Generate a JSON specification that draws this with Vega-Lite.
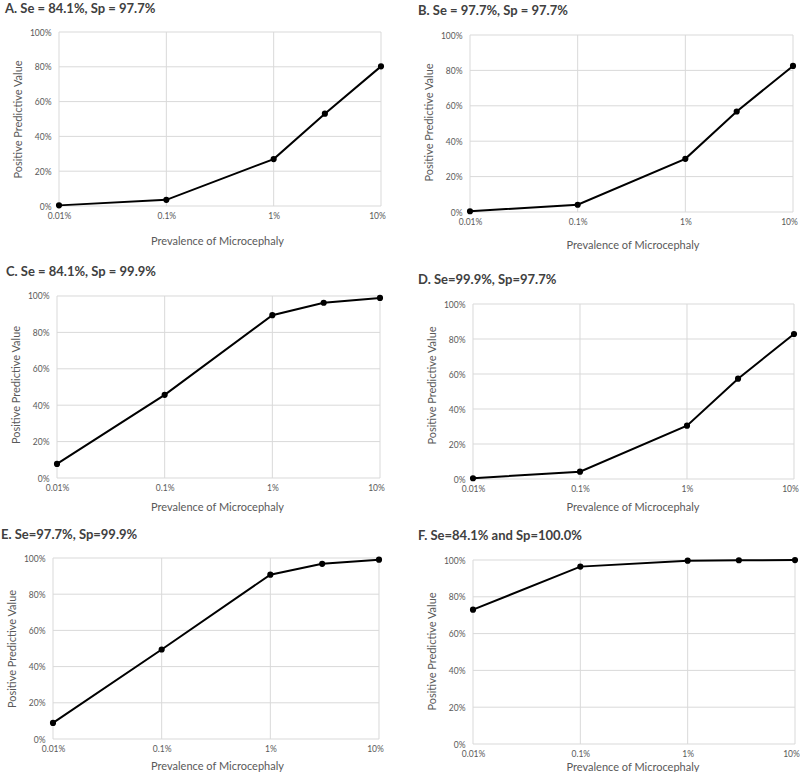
{
  "$schema": "https://vega.github.io/schema/vega-lite/v6.json",
  "padding": {"left": 1, "top": 2, "right": 0, "bottom": 0},
  "background": "white",
  "bounds": "flush",
  "columns": 2,
  "spacing": {"row": 79, "column": 89},
  "datasets": {
    "ppv": [
      {"panel": "A", "p": 0.0001, "ppv": 0.0036}, {"panel": "A", "p": 0.001, "ppv": 0.0353}, {"panel": "A", "p": 0.01, "ppv": 0.2697}, {"panel": "A", "p": 0.03, "ppv": 0.5307}, {"panel": "A", "p": 0.1, "ppv": 0.8025},
      {"panel": "B", "p": 0.0001, "ppv": 0.0042}, {"panel": "B", "p": 0.001, "ppv": 0.0408}, {"panel": "B", "p": 0.01, "ppv": 0.3003}, {"panel": "B", "p": 0.03, "ppv": 0.5678}, {"panel": "B", "p": 0.1, "ppv": 0.8252},
      {"panel": "C", "p": 0.0001, "ppv": 0.0776}, {"panel": "C", "p": 0.001, "ppv": 0.4571}, {"panel": "C", "p": 0.01, "ppv": 0.8947}, {"panel": "C", "p": 0.03, "ppv": 0.963}, {"panel": "C", "p": 0.1, "ppv": 0.9894},
      {"panel": "D", "p": 0.0001, "ppv": 0.0043}, {"panel": "D", "p": 0.001, "ppv": 0.0417}, {"panel": "D", "p": 0.01, "ppv": 0.305}, {"panel": "D", "p": 0.03, "ppv": 0.5733}, {"panel": "D", "p": 0.1, "ppv": 0.8284},
      {"panel": "E", "p": 0.0001, "ppv": 0.089}, {"panel": "E", "p": 0.001, "ppv": 0.4944}, {"panel": "E", "p": 0.01, "ppv": 0.908}, {"panel": "E", "p": 0.03, "ppv": 0.968}, {"panel": "E", "p": 0.1, "ppv": 0.9909},
      {"panel": "F", "p": 0.0001, "ppv": 0.73}, {"panel": "F", "p": 0.001, "ppv": 0.964}, {"panel": "F", "p": 0.01, "ppv": 0.9963}, {"panel": "F", "p": 0.03, "ppv": 0.9988}, {"panel": "F", "p": 0.1, "ppv": 0.9996}
    ],
    "vgrid": [{"p": 0.0001}, {"p": 0.001}, {"p": 0.01}, {"p": 0.1}],
    "hgrid": [{"ppv": 0}, {"ppv": 0.2}, {"ppv": 0.4}, {"ppv": 0.6}, {"ppv": 0.8}, {"ppv": 1}]
  },
  "concat": [
    {
      "width": 328, "height": 174,
      "title": {"text": "A. Se = 84.1%, Sp = 97.7%", "anchor": "start", "frame": "group", "dx": -48, "offset": 6.5, "baseline": "middle"},
      "layer": [
        {"data": {"name": "vgrid"}, "mark": {"type": "rule", "color": "#d9d9d9", "strokeWidth": 1},
         "encoding": {"x": {"field": "p", "type": "quantitative", "scale": {"type": "log", "domain": [8.79e-5, 0.1], "nice": false}, "axis": {"values": [0.0001, 0.001, 0.01, 0.1], "format": "~%", "title": "Prevalence of Microcephaly", "titlePadding": 16}},
                      "y": {"datum": 0, "type": "quantitative", "scale": {"domain": [0, 1], "nice": false}, "axis": {"values": [0, 0.2, 0.4, 0.6, 0.8, 1], "format": ".0%", "title": "Positive Predictive Value", "offset": -6}}, "y2": {"datum": 1}}},
        {"data": {"name": "hgrid"}, "mark": {"type": "rule", "color": "#d9d9d9", "strokeWidth": 1},
         "encoding": {"y": {"field": "ppv", "type": "quantitative", "scale": {"domain": [0, 1], "nice": false}, "axis": {"values": [0, 0.2, 0.4, 0.6, 0.8, 1], "format": ".0%", "title": "Positive Predictive Value", "offset": -6}},
                      "x": {"datum": 0.0001, "type": "quantitative", "scale": {"type": "log", "domain": [8.79e-5, 0.1], "nice": false}, "axis": {"values": [0.0001, 0.001, 0.01, 0.1], "format": "~%", "title": "Prevalence of Microcephaly", "titlePadding": 16}}, "x2": {"datum": 0.1}}},
        {"data": {"name": "ppv"}, "transform": [{"filter": "datum.panel === 'A'"}],
         "mark": {"type": "line", "color": "black", "strokeWidth": 2, "point": {"filled": true, "color": "black", "size": 38}},
         "encoding": {"x": {"field": "p", "type": "quantitative", "scale": {"type": "log", "domain": [8.79e-5, 0.1], "nice": false}, "axis": {"values": [0.0001, 0.001, 0.01, 0.1], "format": "~%", "title": "Prevalence of Microcephaly", "titlePadding": 16}},
                      "y": {"field": "ppv", "type": "quantitative", "scale": {"domain": [0, 1], "nice": false}, "axis": {"values": [0, 0.2, 0.4, 0.6, 0.8, 1], "format": ".0%", "title": "Positive Predictive Value", "offset": -6}}}}
      ]
    },
    {
      "width": 325, "height": 180,
      "title": {"text": "B. Se = 97.7%, Sp = 97.7%", "anchor": "start", "frame": "group", "dx": -52, "offset": 7.5, "baseline": "middle"},
      "layer": [
        {"data": {"name": "vgrid"}, "mark": {"type": "rule", "color": "#d9d9d9", "strokeWidth": 1},
         "encoding": {"x": {"field": "p", "type": "quantitative", "scale": {"type": "log", "domain": [0.0001, 0.10437], "nice": false}, "axis": {"values": [0.0001, 0.001, 0.01, 0.1], "format": "~%", "title": "Prevalence of Microcephaly", "titlePadding": 14}},
                      "y": {"datum": 0, "type": "quantitative", "scale": {"domain": [0, 1.01695], "nice": false}, "axis": {"values": [0, 0.2, 0.4, 0.6, 0.8, 1], "format": ".0%", "title": "Positive Predictive Value", "offset": 0}}, "y2": {"datum": 1}}},
        {"data": {"name": "hgrid"}, "mark": {"type": "rule", "color": "#d9d9d9", "strokeWidth": 1},
         "encoding": {"y": {"field": "ppv", "type": "quantitative", "scale": {"domain": [0, 1.01695], "nice": false}, "axis": {"values": [0, 0.2, 0.4, 0.6, 0.8, 1], "format": ".0%", "title": "Positive Predictive Value", "offset": 0}},
                      "x": {"datum": 0.0001, "type": "quantitative", "scale": {"type": "log", "domain": [0.0001, 0.10437], "nice": false}, "axis": {"values": [0.0001, 0.001, 0.01, 0.1], "format": "~%", "title": "Prevalence of Microcephaly", "titlePadding": 14}}, "x2": {"datum": 0.1}}},
        {"data": {"name": "ppv"}, "transform": [{"filter": "datum.panel === 'B'"}],
         "mark": {"type": "line", "color": "black", "strokeWidth": 2, "point": {"filled": true, "color": "black", "size": 38}},
         "encoding": {"x": {"field": "p", "type": "quantitative", "scale": {"type": "log", "domain": [0.0001, 0.10437], "nice": false}, "axis": {"values": [0.0001, 0.001, 0.01, 0.1], "format": "~%", "title": "Prevalence of Microcephaly", "titlePadding": 14}},
                      "y": {"field": "ppv", "type": "quantitative", "scale": {"domain": [0, 1.01695], "nice": false}, "axis": {"values": [0, 0.2, 0.4, 0.6, 0.8, 1], "format": ".0%", "title": "Positive Predictive Value", "offset": 0}}}}
      ]
    },
    {
      "width": 328, "height": 187,
      "title": {"text": "C. Se = 84.1%, Sp = 99.9%", "anchor": "start", "frame": "group", "dx": -47, "offset": 6, "baseline": "middle"},
      "layer": [
        {"data": {"name": "vgrid"}, "mark": {"type": "rule", "color": "#d9d9d9", "strokeWidth": 1},
         "encoding": {"x": {"field": "p", "type": "quantitative", "scale": {"type": "log", "domain": [9.18e-5, 0.10216], "nice": false}, "axis": {"values": [0.0001, 0.001, 0.01, 0.1], "format": "~%", "title": "Prevalence of Microcephaly", "titlePadding": 10}},
                      "y": {"datum": 0, "type": "quantitative", "scale": {"domain": [0, 1.02747], "nice": false}, "axis": {"values": [0, 0.2, 0.4, 0.6, 0.8, 1], "format": ".0%", "title": "Positive Predictive Value", "offset": -4}}, "y2": {"datum": 1}}},
        {"data": {"name": "hgrid"}, "mark": {"type": "rule", "color": "#d9d9d9", "strokeWidth": 1},
         "encoding": {"y": {"field": "ppv", "type": "quantitative", "scale": {"domain": [0, 1.02747], "nice": false}, "axis": {"values": [0, 0.2, 0.4, 0.6, 0.8, 1], "format": ".0%", "title": "Positive Predictive Value", "offset": -4}},
                      "x": {"datum": 0.0001, "type": "quantitative", "scale": {"type": "log", "domain": [9.18e-5, 0.10216], "nice": false}, "axis": {"values": [0.0001, 0.001, 0.01, 0.1], "format": "~%", "title": "Prevalence of Microcephaly", "titlePadding": 10}}, "x2": {"datum": 0.1}}},
        {"data": {"name": "ppv"}, "transform": [{"filter": "datum.panel === 'C'"}],
         "mark": {"type": "line", "color": "black", "strokeWidth": 2, "point": {"filled": true, "color": "black", "size": 38}},
         "encoding": {"x": {"field": "p", "type": "quantitative", "scale": {"type": "log", "domain": [9.18e-5, 0.10216], "nice": false}, "axis": {"values": [0.0001, 0.001, 0.01, 0.1], "format": "~%", "title": "Prevalence of Microcephaly", "titlePadding": 10}},
                      "y": {"field": "ppv", "type": "quantitative", "scale": {"domain": [0, 1.02747], "nice": false}, "axis": {"values": [0, 0.2, 0.4, 0.6, 0.8, 1], "format": ".0%", "title": "Positive Predictive Value", "offset": -4}}}}
      ]
    },
    {
      "width": 325, "height": 188,
      "title": {"text": "D. Se=99.9%, Sp=97.7%", "anchor": "start", "frame": "group", "dx": -52, "offset": -2, "baseline": "middle"},
      "layer": [
        {"data": {"name": "vgrid"}, "mark": {"type": "rule", "color": "#d9d9d9", "strokeWidth": 1},
         "encoding": {"x": {"field": "p", "type": "quantitative", "scale": {"type": "log", "domain": [9.375e-5, 0.10218], "nice": false}, "axis": {"values": [0.0001, 0.001, 0.01, 0.1], "format": "~%", "title": "Prevalence of Microcephaly", "titlePadding": 9}},
                      "y": {"datum": 0, "type": "quantitative", "scale": {"domain": [0, 1.07429], "nice": false}, "axis": {"values": [0, 0.2, 0.4, 0.6, 0.8, 1], "format": ".0%", "title": "Positive Predictive Value", "offset": -3}}, "y2": {"datum": 1}}},
        {"data": {"name": "hgrid"}, "mark": {"type": "rule", "color": "#d9d9d9", "strokeWidth": 1},
         "encoding": {"y": {"field": "ppv", "type": "quantitative", "scale": {"domain": [0, 1.07429], "nice": false}, "axis": {"values": [0, 0.2, 0.4, 0.6, 0.8, 1], "format": ".0%", "title": "Positive Predictive Value", "offset": -3}},
                      "x": {"datum": 0.0001, "type": "quantitative", "scale": {"type": "log", "domain": [9.375e-5, 0.10218], "nice": false}, "axis": {"values": [0.0001, 0.001, 0.01, 0.1], "format": "~%", "title": "Prevalence of Microcephaly", "titlePadding": 9}}, "x2": {"datum": 0.1}}},
        {"data": {"name": "ppv"}, "transform": [{"filter": "datum.panel === 'D'"}],
         "mark": {"type": "line", "color": "black", "strokeWidth": 2, "point": {"filled": true, "color": "black", "size": 38}},
         "encoding": {"x": {"field": "p", "type": "quantitative", "scale": {"type": "log", "domain": [9.375e-5, 0.10218], "nice": false}, "axis": {"values": [0.0001, 0.001, 0.01, 0.1], "format": "~%", "title": "Prevalence of Microcephaly", "titlePadding": 9}},
                      "y": {"field": "ppv", "type": "quantitative", "scale": {"domain": [0, 1.07429], "nice": false}, "axis": {"values": [0, 0.2, 0.4, 0.6, 0.8, 1], "format": ".0%", "title": "Positive Predictive Value", "offset": -3}}}}
      ]
    },
    {
      "width": 328, "height": 181,
      "title": {"text": "E. Se=97.7%, Sp=99.9%", "anchor": "start", "frame": "group", "dx": -52, "offset": 6.5, "baseline": "middle"},
      "layer": [
        {"data": {"name": "vgrid"}, "mark": {"type": "rule", "color": "#d9d9d9", "strokeWidth": 1},
         "encoding": {"x": {"field": "p", "type": "quantitative", "scale": {"type": "log", "domain": [0.0001, 0.10433], "nice": false}, "axis": {"values": [0.0001, 0.001, 0.01, 0.1], "format": "~%", "title": "Prevalence of Microcephaly", "titlePadding": 8}},
                      "y": {"datum": 0, "type": "quantitative", "scale": {"domain": [0, 1], "nice": false}, "axis": {"values": [0, 0.2, 0.4, 0.6, 0.8, 1], "format": ".0%", "title": "Positive Predictive Value", "offset": 0}}, "y2": {"datum": 1}}},
        {"data": {"name": "hgrid"}, "mark": {"type": "rule", "color": "#d9d9d9", "strokeWidth": 1},
         "encoding": {"y": {"field": "ppv", "type": "quantitative", "scale": {"domain": [0, 1], "nice": false}, "axis": {"values": [0, 0.2, 0.4, 0.6, 0.8, 1], "format": ".0%", "title": "Positive Predictive Value", "offset": 0}},
                      "x": {"datum": 0.0001, "type": "quantitative", "scale": {"type": "log", "domain": [0.0001, 0.10433], "nice": false}, "axis": {"values": [0.0001, 0.001, 0.01, 0.1], "format": "~%", "title": "Prevalence of Microcephaly", "titlePadding": 8}}, "x2": {"datum": 0.1}}},
        {"data": {"name": "ppv"}, "transform": [{"filter": "datum.panel === 'E'"}],
         "mark": {"type": "line", "color": "black", "strokeWidth": 2, "point": {"filled": true, "color": "black", "size": 38}},
         "encoding": {"x": {"field": "p", "type": "quantitative", "scale": {"type": "log", "domain": [0.0001, 0.10433], "nice": false}, "axis": {"values": [0.0001, 0.001, 0.01, 0.1], "format": "~%", "title": "Prevalence of Microcephaly", "titlePadding": 8}},
                      "y": {"field": "ppv", "type": "quantitative", "scale": {"domain": [0, 1], "nice": false}, "axis": {"values": [0, 0.2, 0.4, 0.6, 0.8, 1], "format": ".0%", "title": "Positive Predictive Value", "offset": 0}}}}
      ]
    },
    {
      "width": 325, "height": 186,
      "title": {"text": "F. Se=84.1% and Sp=100.0%", "anchor": "start", "frame": "group", "dx": -52, "offset": 7.5, "baseline": "middle"},
      "layer": [
        {"data": {"name": "vgrid"}, "mark": {"type": "rule", "color": "#d9d9d9", "strokeWidth": 1},
         "encoding": {"x": {"field": "p", "type": "quantitative", "scale": {"type": "log", "domain": [9.376e-5, 0.1], "nice": false}, "axis": {"values": [0.0001, 0.001, 0.01, 0.1], "format": "~%", "title": "Prevalence of Microcephaly", "titlePadding": 4}},
                      "y": {"datum": 0, "type": "quantitative", "scale": {"domain": [0, 1.01087], "nice": false}, "axis": {"values": [0, 0.2, 0.4, 0.6, 0.8, 1], "format": ".0%", "title": "Positive Predictive Value", "offset": -3}}, "y2": {"datum": 1}}},
        {"data": {"name": "hgrid"}, "mark": {"type": "rule", "color": "#d9d9d9", "strokeWidth": 1},
         "encoding": {"y": {"field": "ppv", "type": "quantitative", "scale": {"domain": [0, 1.01087], "nice": false}, "axis": {"values": [0, 0.2, 0.4, 0.6, 0.8, 1], "format": ".0%", "title": "Positive Predictive Value", "offset": -3}},
                      "x": {"datum": 0.0001, "type": "quantitative", "scale": {"type": "log", "domain": [9.376e-5, 0.1], "nice": false}, "axis": {"values": [0.0001, 0.001, 0.01, 0.1], "format": "~%", "title": "Prevalence of Microcephaly", "titlePadding": 4}}, "x2": {"datum": 0.1}}},
        {"data": {"name": "ppv"}, "transform": [{"filter": "datum.panel === 'F'"}],
         "mark": {"type": "line", "color": "black", "strokeWidth": 2, "point": {"filled": true, "color": "black", "size": 38}},
         "encoding": {"x": {"field": "p", "type": "quantitative", "scale": {"type": "log", "domain": [9.376e-5, 0.1], "nice": false}, "axis": {"values": [0.0001, 0.001, 0.01, 0.1], "format": "~%", "title": "Prevalence of Microcephaly", "titlePadding": 4}},
                      "y": {"field": "ppv", "type": "quantitative", "scale": {"domain": [0, 1.01087], "nice": false}, "axis": {"values": [0, 0.2, 0.4, 0.6, 0.8, 1], "format": ".0%", "title": "Positive Predictive Value", "offset": -3}}}}
      ]
    }
  ],
  "config": {
    "view": {"stroke": null},
    "font": "Lato",
    "title": {"font": "Lato", "fontSize": 13, "fontWeight": "bold", "color": "#404040"},
    "axis": {
      "domain": false, "ticks": false, "grid": false,
      "labelFlush": false, "labelOverlap": false,
      "labelFont": "Lato", "labelFontSize": 8.5, "labelColor": "#595959",
      "titleFont": "Lato", "titleFontSize": 11, "titleFontWeight": "normal", "titleColor": "#595959"
    },
    "axisX": {"labelPadding": 5, "labelOffset": {"condition": {"test": "datum.value >= 0.09", "value": -4}, "value": 0}},
    "axisY": {"labelPadding": 8, "titlePadding": 6}
  }
}
